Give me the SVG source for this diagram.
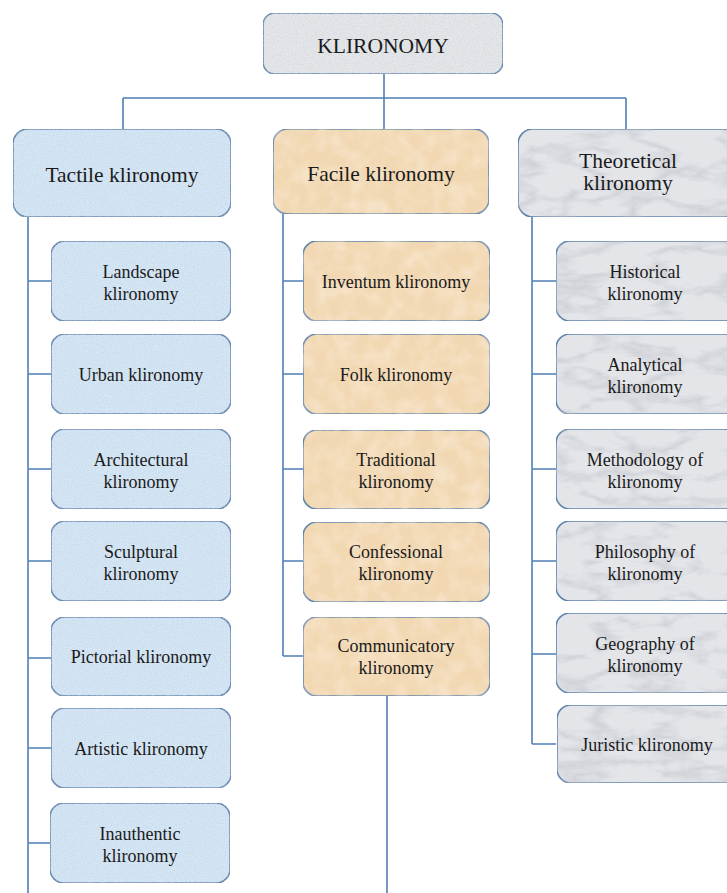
<svg xmlns="http://www.w3.org/2000/svg" width="727" height="893" viewBox="0 0 727 893">
<defs>
<style>
.box{stroke:#5f84ad;stroke-width:1.6}
.root{fill:#e6e7e9}
.tac{fill:#d4e7f7}
.fac{fill:#f2d8b2}
.the{fill:#e3e5e9}
.tex{filter:url(#speck)}
.marb{filter:url(#marble)}
.warm{filter:url(#paper)}
text{font-family:"Liberation Serif","Times New Roman",serif;fill:#1a1a1a;text-anchor:middle}
.t1{font-size:21.5px}
.t2{font-size:18px}
.conn{fill:none;stroke:#4f7fb5;stroke-width:1.6}
</style>
<filter id="speck" x="0" y="0" width="100%" height="100%">
<feTurbulence type="fractalNoise" baseFrequency="0.9" numOctaves="2" seed="3" result="n"/>
<feColorMatrix in="n" type="matrix" values="0 0 0 0 0.55  0 0 0 0 0.6  0 0 0 0 0.68  0 0 0 -1.2 0.75" result="c"/>
<feComposite in="c" in2="SourceAlpha" operator="in" result="t"/>
<feMerge><feMergeNode in="SourceGraphic"/><feMergeNode in="t"/></feMerge>
</filter>
<filter id="paper" x="0" y="0" width="100%" height="100%">
<feTurbulence type="fractalNoise" baseFrequency="0.06" numOctaves="3" seed="7" result="n"/>
<feColorMatrix in="n" type="matrix" values="0 0 0 0 0.98  0 0 0 0 0.9  0 0 0 0 0.78  0 0 0 -0.8 0.5" result="c"/>
<feComposite in="c" in2="SourceAlpha" operator="in" result="t"/>
<feMerge><feMergeNode in="SourceGraphic"/><feMergeNode in="t"/></feMerge>
</filter>
<filter id="marble" x="0" y="0" width="100%" height="100%">
<feTurbulence type="turbulence" baseFrequency="0.015 0.04" numOctaves="4" seed="11" result="n"/>
<feColorMatrix in="n" type="matrix" values="0 0 0 0 0.5  0 0 0 0 0.52  0 0 0 0 0.56  0 0 0 -1.8 0.6" result="c"/>
<feComposite in="c" in2="SourceAlpha" operator="in" result="t"/>
<feMerge><feMergeNode in="SourceGraphic"/><feMergeNode in="t"/></feMerge>
</filter>
</defs>
<rect width="727" height="893" fill="#ffffff"/>

<g id="connectors">
<path class="conn" d="M384 74 V98 M123 98 H626 M123 98 V129 M384 98 V129 M626 98 V129"/>
<path class="conn" d="M28 217 V893 M28 281 H51 M28 374 H51 M28 469 H51 M28 561 H51 M28 658 H51 M28 748 H51 M28 843 H51"/>
<path class="conn" d="M283 214 V656 M283 281 H303 M283 374 H303 M283 469 H303 M283 561 H303 M283 656 H303"/>
<path class="conn" d="M387 696 V893"/>
<path class="conn" d="M532 217 V744 M532 281 H556 M532 374 H556 M532 469 H556 M532 561 H556 M532 654 H556 M532 744 H556"/>
</g>

<g id="root"><rect class="box root tex" x="263" y="13" width="240" height="61" rx="12"/><text class="t1" x="383" y="53">KLIRONOMY</text></g>

<g id="tactile"><rect class="box tac tex" x="13" y="129" width="218" height="88" rx="15"/><text class="t1" x="122" y="182">Tactile klironomy</text></g>
<g id="facile"><rect class="box fac warm" x="273" y="129" width="216" height="85" rx="15"/><text class="t1" x="381" y="181">Facile klironomy</text></g>
<g id="theoretical"><rect class="box the marb" x="518" y="129" width="220" height="88" rx="15"/><text class="t1" x="628" y="168">Theoretical</text><text class="t1" x="628" y="190">klironomy</text></g>

<g id="landscape"><rect class="box tac tex" x="51" y="241" width="180" height="80" rx="14"/><text class="t2" x="141" y="278">Landscape</text><text class="t2" x="141" y="300">klironomy</text></g>
<g id="urban"><rect class="box tac tex" x="51" y="334" width="180" height="80" rx="14"/><text class="t2" x="141" y="381">Urban klironomy</text></g>
<g id="architectural"><rect class="box tac tex" x="51" y="429" width="180" height="80" rx="14"/><text class="t2" x="141" y="466">Architectural</text><text class="t2" x="141" y="488">klironomy</text></g>
<g id="sculptural"><rect class="box tac tex" x="51" y="521" width="180" height="80" rx="14"/><text class="t2" x="141" y="558">Sculptural</text><text class="t2" x="141" y="580">klironomy</text></g>
<g id="pictorial"><rect class="box tac tex" x="51" y="617" width="180" height="79" rx="14"/><text class="t2" x="141" y="663">Pictorial klironomy</text></g>
<g id="artistic"><rect class="box tac tex" x="51" y="708" width="180" height="80" rx="14"/><text class="t2" x="141" y="755">Artistic klironomy</text></g>
<g id="inauthentic"><rect class="box tac tex" x="50" y="803" width="180" height="80" rx="14"/><text class="t2" x="140" y="840">Inauthentic</text><text class="t2" x="140" y="862">klironomy</text></g>

<g id="inventum"><rect class="box fac warm" x="303" y="241" width="187" height="80" rx="14"/><text class="t2" x="396" y="288">Inventum klironomy</text></g>
<g id="folk"><rect class="box fac warm" x="303" y="334" width="187" height="80" rx="14"/><text class="t2" x="396" y="381">Folk klironomy</text></g>
<g id="traditional"><rect class="box fac warm" x="303" y="430" width="187" height="79" rx="14"/><text class="t2" x="396" y="466">Traditional</text><text class="t2" x="396" y="488">klironomy</text></g>
<g id="confessional"><rect class="box fac warm" x="303" y="522" width="187" height="80" rx="14"/><text class="t2" x="396" y="558">Confessional</text><text class="t2" x="396" y="580">klironomy</text></g>
<g id="communicatory"><rect class="box fac warm" x="303" y="617" width="187" height="79" rx="14"/><text class="t2" x="396" y="652">Communicatory</text><text class="t2" x="396" y="674">klironomy</text></g>

<g id="historical"><rect class="box the marb" x="556" y="241" width="182" height="80" rx="14"/><text class="t2" x="645" y="278">Historical</text><text class="t2" x="645" y="300">klironomy</text></g>
<g id="analytical"><rect class="box the marb" x="556" y="334" width="182" height="80" rx="14"/><text class="t2" x="645" y="371">Analytical</text><text class="t2" x="645" y="393">klironomy</text></g>
<g id="methodology"><rect class="box the marb" x="556" y="429" width="182" height="80" rx="14"/><text class="t2" x="645" y="466">Methodology of</text><text class="t2" x="645" y="488">klironomy</text></g>
<g id="philosophy"><rect class="box the marb" x="556" y="521" width="182" height="80" rx="14"/><text class="t2" x="645" y="558">Philosophy of</text><text class="t2" x="645" y="580">klironomy</text></g>
<g id="geography"><rect class="box the marb" x="556" y="613" width="182" height="80" rx="14"/><text class="t2" x="645" y="650">Geography of</text><text class="t2" x="645" y="672">klironomy</text></g>
<g id="juristic"><rect class="box the marb" x="557" y="705" width="182" height="78" rx="14"/><text class="t2" x="647" y="751">Juristic klironomy</text></g>
</svg>
